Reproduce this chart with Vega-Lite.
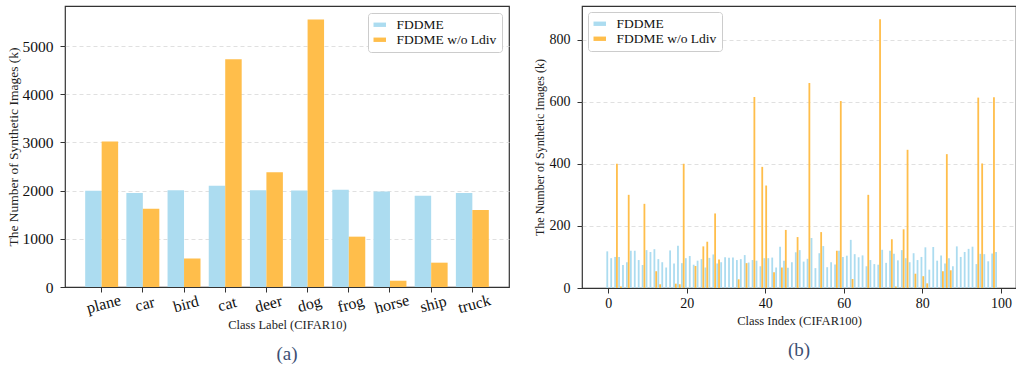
{
  "$schema": "https://vega.github.io/schema/vega-lite/v6.json",
  "background": "white",
  "padding": {"left": 5, "top": 5, "right": 1, "bottom": 0},
  "autosize": {"type": "pad"},
  "spacing": 22,
  "config": {
    "font": "Liberation Serif",
    "view": {"stroke": "#333333", "strokeWidth": 1.2},
    "axis": {
      "domain": false,
      "tickColor": "#333333",
      "tickSize": 5,
      "labelColor": "#111111",
      "titleColor": "#222222",
      "titleFontWeight": "normal",
      "labelFont": "Liberation Serif",
      "titleFont": "Liberation Serif",
      "gridColor": "#dddddd",
      "gridDash": [4, 3],
      "gridWidth": 0.9
    },
    "legend": {
      "symbolType": "M-1,-0.35L1,-0.35L1,0.35L-1,0.35Z",
      "symbolSize": 156,
      "symbolStrokeWidth": 0,
      "symbolOpacity": 1,
      "labelFont": "Liberation Serif",
      "labelFontSize": 13.5,
      "labelColor": "#111111",
      "labelOffset": 10,
      "rowPadding": 0,
      "padding": 5,
      "strokeColor": "#cccccc",
      "fillColor": "white",
      "cornerRadius": 3
    },
    "title": {"font": "Liberation Serif", "fontSize": 19, "fontWeight": "normal", "color": "#3D4F73"}
  },
  "resolve": {"legend": {"color": "independent"}, "scale": {"color": "independent"}},
  "datasets": {
    "c10": [
      {"cls": "plane", "fddme": 2000, "wo": 3020},
      {"cls": "car", "fddme": 1950, "wo": 1625},
      {"cls": "bird", "fddme": 2010, "wo": 590},
      {"cls": "cat", "fddme": 2100, "wo": 4730},
      {"cls": "deer", "fddme": 2010, "wo": 2380},
      {"cls": "dog", "fddme": 2005, "wo": 5555},
      {"cls": "frog", "fddme": 2020, "wo": 1045},
      {"cls": "horse", "fddme": 1980, "wo": 130},
      {"cls": "ship", "fddme": 1895, "wo": 505},
      {"cls": "truck", "fddme": 1950, "wo": 1600}
    ],
    "c100": [
      {"k": 0, "fddme": 118, "wo": 0}, {"k": 1, "fddme": 96, "wo": 0}, {"k": 2, "fddme": 100, "wo": 400},
      {"k": 3, "fddme": 100, "wo": 5}, {"k": 4, "fddme": 74, "wo": 0}, {"k": 5, "fddme": 83, "wo": 300},
      {"k": 6, "fddme": 120, "wo": 0}, {"k": 7, "fddme": 120, "wo": 0}, {"k": 8, "fddme": 90, "wo": 0},
      {"k": 9, "fddme": 74, "wo": 271}, {"k": 10, "fddme": 122, "wo": 0}, {"k": 11, "fddme": 116, "wo": 0},
      {"k": 12, "fddme": 125, "wo": 54}, {"k": 13, "fddme": 93, "wo": 12}, {"k": 14, "fddme": 83, "wo": 0},
      {"k": 15, "fddme": 66, "wo": 0}, {"k": 16, "fddme": 121, "wo": 0}, {"k": 17, "fddme": 79, "wo": 14},
      {"k": 18, "fddme": 136, "wo": 12}, {"k": 19, "fddme": 80, "wo": 400}, {"k": 20, "fddme": 96, "wo": 0},
      {"k": 21, "fddme": 103, "wo": 0}, {"k": 22, "fddme": 75, "wo": 71}, {"k": 23, "fddme": 88, "wo": 0},
      {"k": 24, "fddme": 93, "wo": 134}, {"k": 25, "fddme": 66, "wo": 149}, {"k": 26, "fddme": 97, "wo": 0},
      {"k": 27, "fddme": 108, "wo": 240}, {"k": 28, "fddme": 79, "wo": 92}, {"k": 29, "fddme": 83, "wo": 0},
      {"k": 30, "fddme": 99, "wo": 0}, {"k": 31, "fddme": 97, "wo": 0}, {"k": 32, "fddme": 98, "wo": 0},
      {"k": 33, "fddme": 90, "wo": 28}, {"k": 34, "fddme": 93, "wo": 0}, {"k": 35, "fddme": 106, "wo": 80},
      {"k": 36, "fddme": 82, "wo": 0}, {"k": 37, "fddme": 90, "wo": 615}, {"k": 38, "fddme": 88, "wo": 0},
      {"k": 39, "fddme": 70, "wo": 390}, {"k": 40, "fddme": 96, "wo": 330}, {"k": 41, "fddme": 96, "wo": 0},
      {"k": 42, "fddme": 98, "wo": 51}, {"k": 43, "fddme": 66, "wo": 0}, {"k": 44, "fddme": 133, "wo": 66},
      {"k": 45, "fddme": 88, "wo": 187}, {"k": 46, "fddme": 65, "wo": 0}, {"k": 47, "fddme": 83, "wo": 0},
      {"k": 48, "fddme": 115, "wo": 164}, {"k": 49, "fddme": 122, "wo": 0}, {"k": 50, "fddme": 85, "wo": 0},
      {"k": 51, "fddme": 94, "wo": 660}, {"k": 52, "fddme": 161, "wo": 0}, {"k": 53, "fddme": 64, "wo": 0},
      {"k": 54, "fddme": 112, "wo": 180}, {"k": 55, "fddme": 135, "wo": 0}, {"k": 56, "fddme": 67, "wo": 0},
      {"k": 57, "fddme": 83, "wo": 0}, {"k": 58, "fddme": 76, "wo": 120}, {"k": 59, "fddme": 120, "wo": 602},
      {"k": 60, "fddme": 100, "wo": 0}, {"k": 61, "fddme": 104, "wo": 0}, {"k": 62, "fddme": 155, "wo": 29},
      {"k": 63, "fddme": 109, "wo": 0}, {"k": 64, "fddme": 99, "wo": 0}, {"k": 65, "fddme": 105, "wo": 0},
      {"k": 66, "fddme": 70, "wo": 300}, {"k": 67, "fddme": 90, "wo": 0}, {"k": 68, "fddme": 77, "wo": 0},
      {"k": 69, "fddme": 75, "wo": 865}, {"k": 70, "fddme": 123, "wo": 0}, {"k": 71, "fddme": 81, "wo": 0},
      {"k": 72, "fddme": 120, "wo": 157}, {"k": 73, "fddme": 110, "wo": 5}, {"k": 74, "fddme": 89, "wo": 0},
      {"k": 75, "fddme": 122, "wo": 189}, {"k": 76, "fddme": 96, "wo": 445}, {"k": 77, "fddme": 83, "wo": 0},
      {"k": 78, "fddme": 112, "wo": 46}, {"k": 79, "fddme": 90, "wo": 0}, {"k": 80, "fddme": 100, "wo": 38},
      {"k": 81, "fddme": 131, "wo": 15}, {"k": 82, "fddme": 59, "wo": 0}, {"k": 83, "fddme": 132, "wo": 0},
      {"k": 84, "fddme": 88, "wo": 0}, {"k": 85, "fddme": 105, "wo": 54}, {"k": 86, "fddme": 79, "wo": 431},
      {"k": 87, "fddme": 96, "wo": 57}, {"k": 88, "fddme": 70, "wo": 0}, {"k": 89, "fddme": 134, "wo": 0},
      {"k": 90, "fddme": 100, "wo": 0}, {"k": 91, "fddme": 116, "wo": 0}, {"k": 92, "fddme": 126, "wo": 0},
      {"k": 93, "fddme": 133, "wo": 0}, {"k": 94, "fddme": 77, "wo": 613}, {"k": 95, "fddme": 110, "wo": 401},
      {"k": 96, "fddme": 109, "wo": 0}, {"k": 97, "fddme": 86, "wo": 0}, {"k": 98, "fddme": 111, "wo": 614},
      {"k": 99, "fddme": 116, "wo": 0}
    ]
  },
  "hconcat": [
    {
      "width": 444,
      "height": 281,
      "data": {"name": "c10"},
      "transform": [{"fold": ["fddme", "wo"], "as": ["series", "value"]}],
      "title": {"text": "(a)", "orient": "bottom", "offset": 14},
      "mark": {"type": "bar"},
      "encoding": {
        "x": {
          "field": "cls", "type": "nominal", "sort": null,
          "scale": {"paddingInner": 0.2, "paddingOuter": 0.49},
          "axis": {"title": "Class Label (CIFAR10)", "titleFontSize": 12.5, "titlePadding": 3,
                   "labelAngle": -15, "labelAlign": "center", "labelBaseline": "top",
                   "labelFontSize": 16, "labelPadding": 4, "grid": false}
        },
        "xOffset": {"field": "series", "type": "nominal", "scale": {"domain": ["fddme", "wo"], "paddingInner": 0}},
        "y": {
          "field": "value", "type": "quantitative",
          "scale": {"domain": [0, 5833], "nice": false},
          "axis": {"title": "The Number of Synthetic Images (k)", "titleFontSize": 13.5, "titlePadding": 2,
                   "values": [0, 1000, 2000, 3000, 4000, 5000], "format": "d", "labelFontSize": 15.5, "labelPadding": 7, "grid": true,
                   "gridOpacity": {"condition": {"test": "datum.value == 0", "value": 0}, "value": 1}}
        },
        "color": {
          "field": "series", "type": "nominal",
          "scale": {"domain": ["fddme", "wo"], "range": ["#ACDCF0", "#FFBE4B"]},
          "legend": {"title": null, "orient": "top-right", "offset": 7,
                     "labelExpr": "datum.value == 'fddme' ? 'FDDME' : 'FDDME w/o Ldiv'"}
        }
      }
    },
    {
      "width": 434,
      "height": 282,
      "data": {"name": "c100"},
      "title": {"text": "(b)", "orient": "bottom", "offset": 14},
      "layer": [
        {
          "mark": {"type": "bar", "width": 1.8, "xOffset": -0.9},
          "encoding": {
            "x": {
              "field": "k", "type": "quantitative",
              "scale": {"domain": [-5.39, 102.57], "nice": false, "zero": false},
              "axis": {"title": "Class Index (CIFAR100)", "titleFontSize": 12.5, "titlePadding": 4,
                       "values": [0, 20, 40, 60, 80, 100], "labelFontSize": 14, "labelPadding": 3, "grid": false}
            },
            "y": {
              "field": "fddme", "type": "quantitative",
              "scale": {"domain": [0, 908], "nice": false},
              "axis": {"title": "The Number of Synthetic Images (k)", "titleFontSize": 12, "titlePadding": 3,
                       "values": [0, 200, 400, 600, 800], "labelFontSize": 14, "labelPadding": 7, "grid": true,
                       "gridOpacity": {"condition": {"test": "datum.value == 0", "value": 0}, "value": 1}}
            },
            "color": {
              "datum": "FDDME",
              "scale": {"domain": ["FDDME", "FDDME w/o Ldiv"], "range": ["#ACDCF0", "#FFBE4B"]},
              "legend": {"title": null, "orient": "top-left", "offset": 6}
            }
          }
        },
        {
          "mark": {"type": "bar", "width": 1.8, "xOffset": 0.9},
          "encoding": {
            "x": {"field": "k", "type": "quantitative"},
            "y": {"field": "wo", "type": "quantitative", "axis": {"title": "The Number of Synthetic Images (k)"}},
            "color": {"datum": "FDDME w/o Ldiv"}
          }
        }
      ]
    }
  ]
}
